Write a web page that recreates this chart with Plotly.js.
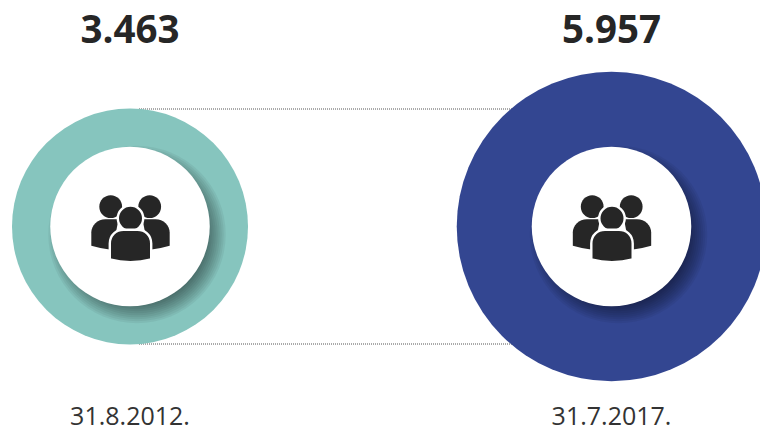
<!DOCTYPE html>
<html><head><meta charset="utf-8">
<script src="https://cdn.plot.ly/plotly-3.0.1.min.js"></script>
<style>html,body{margin:0;padding:0;background:#fff;overflow:hidden}#c{width:760px;height:428px}</style>
</head><body><div id="c"></div>
<script>
const dates = ['31.8.2012.', '31.7.2017.'];
const valueLabels = ['3.463', '5.957'];
const values = [3463, 5957];
const colors = ['#86c5be', '#334691'];
const centerX = [130, 611.5];
const centerY = [226.5, 226.5];
const titleY = [33, 33];
const dateY = [419, 419];
const guideX = [139, 520, null, 139, 520];
const guideY = [109, 109, null, 344, 344];

const INK = '#262626';
const innerD = 159.5;
const traces = [];

traces.push({x: guideX, y: guideY, mode: 'lines', line: {color: '#555', width: 1, dash: '1px,1px'}, hoverinfo: 'skip'});
traces.push({x: centerX, y: centerY, mode: 'markers', hoverinfo: 'skip',
  marker: {size: values, sizemode: 'area', sizeref: 2 * 3463 / (236 * 236), color: colors, opacity: 1, line: {width: 0}}});

// soft drop shadow: stacked translucent discs
for (let d = 18; d >= -22; d -= 4) {
  traces.push({x: centerX.map(v => v + 7), y: centerY.map(v => v + 8), mode: 'markers', hoverinfo: 'skip',
    marker: {size: innerD + d, color: 'rgba(0,0,0,0.05)', line: {width: 0}}});
}
traces.push({x: centerX, y: centerY, mode: 'markers', hoverinfo: 'skip',
  marker: {size: innerD, color: '#fff', line: {width: 0}}});

traces.push({x: centerX, y: titleY, text: valueLabels, mode: 'text', textposition: 'middle center', hoverinfo: 'skip',
  textfont: {family: '"Open Sans", sans-serif', size: 38.5, color: INK, weight: 700}});
traces.push({x: centerX, y: dateY, text: dates, mode: 'text', textposition: 'middle center', hoverinfo: 'skip',
  textfont: {family: '"Open Sans", sans-serif', size: 25, color: '#333'}});

function circ(cx, cy, r) {
  const k = 0.5523 * r;
  return `M${cx - r},${cy} C${cx - r},${cy - k} ${cx - k},${cy - r} ${cx},${cy - r} ` +
         `C${cx + k},${cy - r} ${cx + r},${cy - k} ${cx + r},${cy} ` +
         `C${cx + r},${cy + k} ${cx + k},${cy + r} ${cx},${cy + r} ` +
         `C${cx - k},${cy + r} ${cx - r},${cy + k} ${cx - r},${cy} Z`;
}
function back(cx, cy, s) {
  const X = v => cx + s * v, Y = v => cy + v;
  return `M${X(-39.2)},${Y(19.2)} Q${X(-30)},${Y(22)} ${X(-18)},${Y(23.5)} L${X(-12)},${Y(-7.3)} L${X(-25)},${Y(-7.3)} ` +
         `C${X(-33)},${Y(-7.3)} ${X(-39.2)},${Y(-1)} ${X(-39.2)},${Y(6)} Z`;
}
function front(cx, cy) {
  const X = v => cx + v, Y = v => cy + v;
  return `M${X(-20.7)},${Y(33)} Q${X(0)},${Y(38.4)} ${X(20.7)},${Y(33)} L${X(20.7)},${Y(17)} ` +
         `C${X(20.7)},${Y(8)} ${X(14)},${Y(3.3)} ${X(7)},${Y(3.3)} L${X(-7)},${Y(3.3)} ` +
         `C${X(-14)},${Y(3.3)} ${X(-20.7)},${Y(8)} ${X(-20.7)},${Y(17)} Z`;
}
const shapes = [];
const add = (path, stroke) => shapes.push({type: 'path', path, xref: 'x', yref: 'y', layer: 'above', fillcolor: INK,
  line: stroke ? {color: '#fff', width: 2.4} : {width: 0}});
centerX.forEach((cx0, i) => {
  const cx = cx0 + 0.5, cy = centerY[i];
  add(circ(cx - 19.8, cy - 19.8, 11.4));
  add(circ(cx + 19.2, cy - 19.8, 11.4));
  add(back(cx, cy, 1));
  add(back(cx, cy, -1));
  add(circ(cx, cy - 8.2, 12.7), true);
  add(front(cx, cy), true);
});

Plotly.newPlot('c', traces, {
  width: 760, height: 428, margin: {l: 0, r: 0, t: 0, b: 0},
  paper_bgcolor: '#fff', plot_bgcolor: '#fff', showlegend: false,
  xaxis: {range: [0, 760], visible: false, fixedrange: true},
  yaxis: {range: [428, 0], visible: false, fixedrange: true},
  shapes
}, {displayModeBar: false, staticPlot: true});
</script></body></html>
